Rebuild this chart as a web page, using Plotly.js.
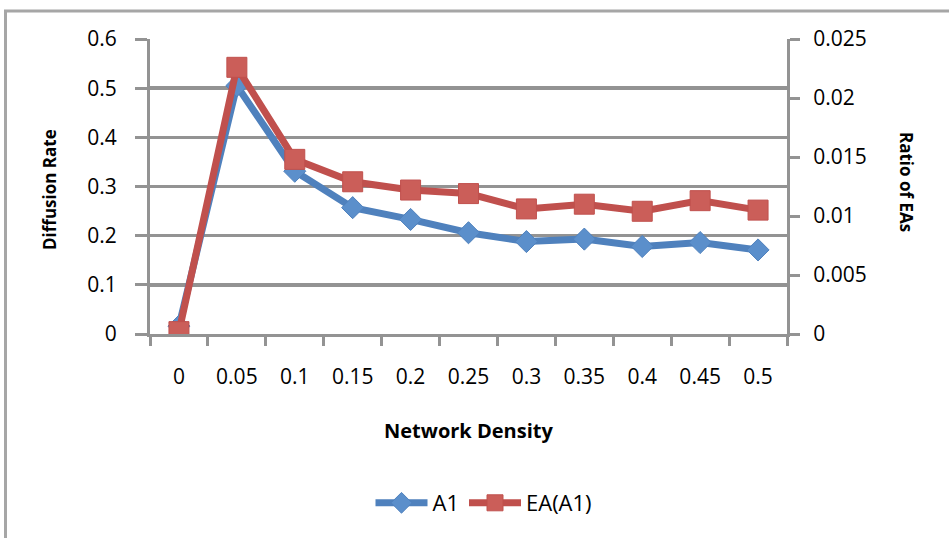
<!DOCTYPE html>
<html>
<head>
<meta charset="utf-8">
<script src="https://cdn.plot.ly/plotly-3.0.1.min.js"></script>
<style>
html,body{margin:0;padding:0;background:#fff;}
#chart{width:949px;height:538px;}
</style>
</head>
<body>
<div id="chart"></div>
<script>
// Data
const densities = ["0","0.05","0.1","0.15","0.2","0.25","0.3","0.35","0.4","0.45","0.5"];
const diffusionA1 = [0.016,0.505,0.331,0.257,0.233,0.206,0.188,0.193,0.178,0.186,0.171];
const ratioEA = [0.0002,0.0226,0.0148,0.0129,0.0122,0.0119,0.0106,0.0110,0.0104,0.0113,0.0105];
const seriesNames = ["A1","EA(A1)"];
const leftTicks = [0,0.1,0.2,0.3,0.4,0.5,0.6];
const rightTicks = [0,0.005,0.01,0.015,0.02,0.025];

const FONT = "Open Sans, Liberation Sans, sans-serif";
const GRAY = "#939393";

// plot area in pixels: x 150..787, y 39..334
const L = 150, R = 787, T = 39, B = 334;
const px = p => (p - L) / (R - L);
const py = q => (B - q) / (B - T);

const traces = [
  {
    x: densities, y: diffusionA1, name: seriesNames[0], type: "scatter", mode: "lines+markers",
    yaxis: "y",
    line: {color: "#4F81BD", width: 7},
    marker: {symbol: "diamond", size: 17, color: "#5B8FCB", line: {color: "#4F81BD", width: 1}}
  },
  {
    x: densities, y: ratioEA, name: seriesNames[1], type: "scatter", mode: "lines+markers",
    yaxis: "y2",
    line: {color: "#C0504D", width: 7},
    marker: {symbol: "square", size: 20, color: "#CB5E59", line: {color: "#C0504D", width: 1}}
  }
];

const layout = {
  width: 949, height: 538,
  margin: {l: L, r: 949 - R, t: T, b: 538 - B, pad: 0},
  paper_bgcolor: "#fff", plot_bgcolor: "#fff",
  font: {family: FONT, size: 21, color: "#000"},
  showlegend: true,
  legend: {
    orientation: "h", x: px(484), y: py(503), xanchor: "center", yanchor: "middle",
    font: {family: FONT, size: 22}, bgcolor: "rgba(0,0,0,0)",
    itemwidth: 52
  },
  xaxis: {
    type: "category", categoryorder: "array", categoryarray: densities,
    range: [-0.5, densities.length - 0.5],
    showline: true, linecolor: GRAY, linewidth: 3,
    ticks: "outside", tickson: "boundaries", ticklen: 9, tickwidth: 3, tickcolor: GRAY,
    showgrid: false, zeroline: false,
    tickfont: {family: FONT, size: 21},
    ticklabelstandoff: 22
  },
  yaxis: {
    range: [0, 0.6], tickvals: leftTicks, ticktext: leftTicks.map(String),
    showline: true, linecolor: GRAY, linewidth: 3,
    ticks: "outside", ticklen: 12, tickwidth: 3, tickcolor: GRAY,
    showgrid: true, gridcolor: GRAY, gridwidth: 3.5, zeroline: false,
    tickfont: {family: FONT, size: 21},
    ticklabelstandoff: 14
  },
  yaxis2: {
    overlaying: "y", side: "right",
    range: [0, 0.025], tickvals: rightTicks, ticktext: rightTicks.map(String),
    showline: true, linecolor: GRAY, linewidth: 3,
    ticks: "outside", ticklen: 10, tickwidth: 3, tickcolor: GRAY,
    showgrid: false, zeroline: false,
    tickfont: {family: FONT, size: 21},
    ticklabelstandoff: 9
  },
  annotations: [
    {text: "<b>Network Density</b>", xref: "paper", yref: "paper", x: px(468), y: py(430),
     xanchor: "center", yanchor: "middle", showarrow: false, font: {family: FONT, size: 20}},
    {text: "<b>Diffusion Rate</b>", xref: "paper", yref: "paper", x: px(50), y: py(190),
     xanchor: "center", yanchor: "middle", showarrow: false, textangle: -90, font: {family: FONT, size: 17}},
    {text: "<b>Ratio of EAs</b>", xref: "paper", yref: "paper", x: px(907), y: py(182),
     xanchor: "center", yanchor: "middle", showarrow: false, textangle: 90, font: {family: FONT, size: 17}}
  ],
  shapes: [
    {type: "line", xref: "paper", yref: "paper", x0: px(5.5), x1: px(5.5), y0: py(11), y1: py(545),
     line: {color: "#a6a6a6", width: 3}},
    {type: "line", xref: "paper", yref: "paper", x0: px(4), x1: px(960), y0: py(11), y1: py(11),
     line: {color: "#a6a6a6", width: 3}}
  ]
};

Plotly.newPlot("chart", traces, layout, {displayModeBar: false, staticPlot: true});
</script>
</body>
</html>
